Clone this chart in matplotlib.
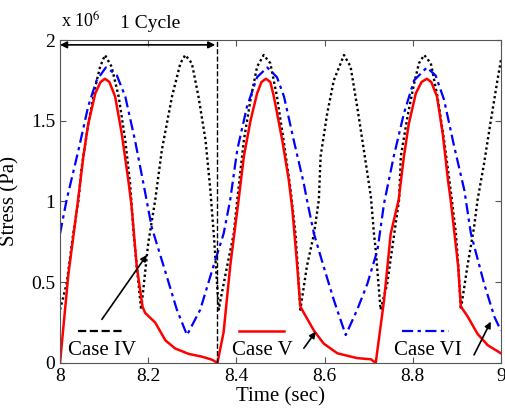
import numpy as np
import matplotlib
matplotlib.use('Agg')
import matplotlib.pyplot as plt

# Case IV (black dotted)
t_iv = [8.000, 8.015, 8.030, 8.042, 8.049, 8.064, 8.080, 8.091, 8.102, 8.117, 8.133, 8.148,
        8.159, 8.167, 8.174, 8.184, 8.200, 8.216, 8.231, 8.254, 8.273, 8.284, 8.299, 8.314,
        8.330, 8.341, 8.350, 8.360, 8.364, 8.379, 8.394, 8.402, 8.417, 8.432, 8.447, 8.462,
        8.477, 8.492, 8.507, 8.523, 8.534, 8.539, 8.545, 8.560, 8.576, 8.587, 8.591, 8.606,
        8.621, 8.644, 8.659, 8.674, 8.689, 8.705, 8.712, 8.716, 8.727, 8.742, 8.758, 8.769,
        8.773, 8.788, 8.803, 8.814, 8.826, 8.841, 8.856, 8.871, 8.886, 8.898, 8.905, 8.909,
        8.924, 8.939, 8.947, 8.962, 8.977, 8.992, 9.000]
s_iv = [0.33, 0.49, 0.80, 1.01, 1.21, 1.48, 1.71, 1.835, 1.907, 1.835, 1.65, 1.38,
        1.11, 0.80, 0.60, 0.33, 0.74, 1.01, 1.32, 1.65, 1.856, 1.907, 1.856, 1.65,
        1.38, 1.07, 0.75, 0.33, 0.39, 0.60, 0.80, 1.01, 1.38, 1.63, 1.835, 1.907,
        1.856, 1.65, 1.38, 1.07, 0.80, 0.60, 0.33, 0.60, 0.80, 1.01, 1.28, 1.546,
        1.75, 1.907, 1.835, 1.587, 1.32, 1.03, 0.80, 0.70, 0.33, 0.49, 0.80, 1.01,
        1.28, 1.525, 1.73, 1.856, 1.907, 1.856, 1.65, 1.38, 1.07, 0.80, 0.53, 0.33,
        0.60, 0.84, 1.01, 1.24, 1.50, 1.75, 1.876]

# Case V (red solid)
t_v = [8.000, 8.019, 8.041, 8.053, 8.064, 8.080, 8.092, 8.102, 8.112, 8.125, 8.140, 8.155,
       8.162, 8.174, 8.187, 8.193, 8.216, 8.239, 8.261, 8.292, 8.322, 8.345, 8.357, 8.371,
       8.386, 8.405, 8.417, 8.432, 8.447, 8.457, 8.467, 8.477, 8.485, 8.504, 8.519, 8.527,
       8.538, 8.545, 8.553, 8.576, 8.598, 8.629, 8.674, 8.705, 8.716, 8.735, 8.750, 8.768,
       8.780, 8.791, 8.807, 8.820, 8.832, 8.842, 8.855, 8.868, 8.880, 8.886, 8.903, 8.909,
       8.924, 8.947, 8.970, 9.000]
s_v = [0.00, 0.55, 1.01, 1.28, 1.48, 1.67, 1.74, 1.76, 1.74, 1.65, 1.42, 1.13,
       0.98, 0.60, 0.35, 0.31, 0.25, 0.14, 0.09, 0.056, 0.039, 0.02, 0.00, 0.19,
       0.60, 1.01, 1.28, 1.50, 1.67, 1.74, 1.76, 1.74, 1.65, 1.38, 1.13, 0.95,
       0.60, 0.35, 0.31, 0.20, 0.12, 0.06, 0.03, 0.023, 0.00, 0.39, 0.80, 1.01,
       1.28, 1.48, 1.67, 1.74, 1.76, 1.74, 1.65, 1.42, 1.13, 1.01, 0.60, 0.35,
       0.29, 0.18, 0.11, 0.06]

# Case VI (blue dash-dot)
t_vi = [8.000, 8.015, 8.042, 8.064, 8.083, 8.104, 8.115, 8.129, 8.148, 8.170, 8.190, 8.208,
        8.235, 8.265, 8.288, 8.318, 8.348, 8.371, 8.386, 8.402, 8.424, 8.447, 8.470, 8.492,
        8.508, 8.530, 8.553, 8.560, 8.576, 8.598, 8.621, 8.648, 8.674, 8.697, 8.720, 8.735,
        8.757, 8.780, 8.803, 8.832, 8.852, 8.871, 8.894, 8.917, 8.932, 8.962, 8.985, 9.000]
s_vi = [0.80, 1.01, 1.32, 1.59, 1.75, 1.83, 1.81, 1.78, 1.65, 1.38, 1.10, 0.84,
        0.60, 0.33, 0.173, 0.33, 0.60, 0.80, 1.01, 1.32, 1.587, 1.77, 1.83, 1.77,
        1.65, 1.38, 1.11, 1.01, 0.80, 0.596, 0.39, 0.173, 0.33, 0.49, 0.70, 0.99,
        1.28, 1.546, 1.75, 1.83, 1.78, 1.63, 1.34, 1.07, 0.80, 0.49, 0.287, 0.20]

cycle_end = 8.357
xticks = [8, 8.2, 8.4, 8.6, 8.8, 9]
xticklabels = ['8', '8.2', '8.4', '8.6', '8.8', '9']
yticks = [0, 0.5, 1, 1.5, 2]
yticklabels = ['0', '0.5', '1', '1.5', '2']


def main():
    plt.rcParams['font.family'] = ['Liberation Serif', 'DejaVu Serif']
    plt.rcParams['mathtext.fontset'] = 'stix'

    fig = plt.figure(figsize=(5.06, 4.19), dpi=100)
    ax = fig.add_axes([0.1186, 0.1337, 0.8714, 0.7708])

    ax.plot(t_iv, s_iv, color='black', linestyle=(0, (1, 1.2)), lw=1.7)
    ax.plot(t_vi, s_vi, color='blue', linestyle=(0, (5, 2, 1.5, 2)), lw=1.6)
    ax.plot(t_v, s_v, color='red', lw=1.8)

    ax.plot([cycle_end, cycle_end], [0, 2], 'k--', lw=1)
    ax.annotate('', xy=(8.0, 1.97), xytext=(cycle_end - 0.005, 1.97),
                arrowprops=dict(arrowstyle='<|-|>', color='black', lw=1.2,
                                mutation_scale=10, shrinkA=0, shrinkB=0))
    ax.text(8.136, 2.05, '1 Cycle', fontsize=14, ha='left', va='bottom')
    ax.text(8.003, 2.05, r'x 10$^{6}$', fontsize=13, ha='left', va='bottom')

    # legend-like labels
    ax.plot([8.041, 8.143], [0.198, 0.198], 'k--', lw=1.6)
    ax.plot([8.405, 8.507], [0.198, 0.198], color='red', lw=1.8)
    ax.plot([8.776, 8.882], [0.198, 0.198], color='blue', linestyle=(0, (5, 2, 1.5, 2)), lw=1.6)
    ax.text(8.018, 0.08, 'Case IV', fontsize=15, va='center')
    ax.text(8.39, 0.08, 'Case V', fontsize=15, va='center')
    ax.text(8.758, 0.08, 'Case VI', fontsize=15, va='center')

    arrow = dict(arrowstyle='-|>', color='black', lw=1.2, mutation_scale=9, shrinkA=0, shrinkB=0)
    ax.annotate('', xy=(8.197, 0.669), xytext=(8.095, 0.27), arrowprops=arrow)
    ax.annotate('', xy=(8.58, 0.194), xytext=(8.553, 0.091), arrowprops=arrow)
    ax.annotate('', xy=(8.977, 0.256), xytext=(8.939, 0.05), arrowprops=arrow)

    ax.set_xlim(8, 9)
    ax.set_ylim(0, 2)
    ax.set_xticks(xticks)
    ax.set_xticklabels(xticklabels)
    ax.set_yticks(yticks)
    ax.set_yticklabels(yticklabels)
    ax.tick_params(direction='in', top=True, right=True, labelsize=14, length=4, color='#555555')
    for sp in ax.spines.values():
        sp.set_color('#555555')
        sp.set_linewidth(0.8)
    ax.set_xlabel('Time (sec)', fontsize=15, labelpad=2)
    ax.set_ylabel('Stress (Pa)', fontsize=15, labelpad=8)

    plt.savefig('out.png', dpi=100)


if __name__ == '__main__':
    main()
